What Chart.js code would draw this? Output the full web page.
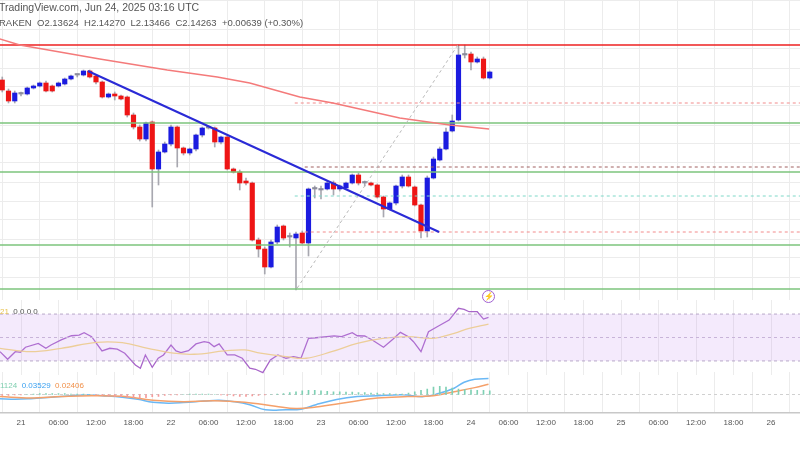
<!DOCTYPE html>
<html>
<head>
<meta charset="utf-8">
<script src="https://cdn.jsdelivr.net/npm/chart.js@4/dist/chart.umd.min.js"></script>
<style>
  body { margin: 0; background: #fff; width: 800px; height: 450px; overflow: hidden; position: relative; font-family: "Liberation Sans", Arial, sans-serif; }
  .pane { position: absolute; left: 0; width: 800px; }
  .txt { position: absolute; white-space: pre; color: #555; }
</style>
</head>
<body>
<div class="pane" style="top:0;height:300px"><canvas id="main"></canvas></div>
<div class="pane" style="top:300px;height:75px"><canvas id="rsi"></canvas></div>
<div class="pane" style="top:372px;height:62px"><canvas id="macd"></canvas></div>

<div class="txt" style="left:-1px;top:1px;font-size:10.5px">TradingView.com, Jun 24, 2025 03:16 UTC</div>
<div class="txt" style="left:-1px;top:17px;font-size:9.5px">RAKEN  O2.13624  H2.14270  L2.13466  C2.14263  +0.00639 (+0.30%)</div>
<div class="txt" style="left:0;top:307px;font-size:8px"><span style="color:#e8c250">21</span>  0 0 0 0</div>
<div class="txt" style="left:0;top:381px;font-size:8px"><span style="color:#7fcfb0">1124</span>  <span style="color:#3aa0f0">0.03529</span>  <span style="color:#f0904a">0.02406</span></div>
<div class="txt" style="left:482px;top:290px;width:11px;height:11px;border:1px solid #a060d0;border-radius:50%;font-size:8px;color:#a060d0;text-align:center;line-height:11px">⚡</div>

<script>
// hourly candles, first one is Jun 20 21:00 (hour -3 from Jun 21 00:00)
const firstHour = -3;
const opens = [2.135,2.124,2.114,2.122,2.121,2.127,2.129,2.132,2.129,2.129,2.131,2.136,2.140,2.140,2.144,2.139,2.133,2.118,2.121,2.119,2.118,2.100,2.088,2.076,2.093,2.046,2.063,2.071,2.088,2.067,2.062,2.066,2.080,2.087,2.087,2.073,2.078,2.046,2.043,2.034,2.032,1.975,1.966,1.948,1.973,1.989,1.978,1.977,1.982,1.972,2.026,2.026,2.026,2.032,2.026,2.027,2.032,2.040,2.032,2.032,2.030,2.018,2.006,2.012,2.029,2.038,2.028,2.010,1.984,2.037,2.055,2.066,2.084,2.095,2.160,2.161,2.153,2.156,2.137];
const highs = [2.138,2.126,2.124,2.123,2.128,2.130,2.133,2.134,2.130,2.133,2.137,2.140,2.141,2.145,2.145,2.140,2.134,2.122,2.123,2.120,2.119,2.102,2.090,2.093,2.094,2.065,2.073,2.090,2.089,2.068,2.067,2.081,2.088,2.089,2.088,2.079,2.079,2.047,2.045,2.037,2.033,1.977,1.968,1.975,1.990,1.990,1.982,1.983,1.984,2.027,2.029,2.029,2.034,2.034,2.030,2.033,2.041,2.042,2.034,2.033,2.031,2.019,2.013,2.030,2.040,2.040,2.029,2.011,2.039,2.058,2.068,2.087,2.100,2.170,2.170,2.163,2.158,2.158,2.144];
const lows = [2.123,2.112,2.112,2.119,2.120,2.126,2.128,2.123,2.123,2.128,2.130,2.135,2.138,2.139,2.137,2.131,2.117,2.117,2.115,2.115,2.098,2.086,2.074,2.074,2.008,2.030,2.062,2.069,2.048,2.060,2.060,2.064,2.078,2.086,2.068,2.071,2.045,2.042,2.025,2.030,1.974,1.958,1.941,1.947,1.971,1.975,1.968,1.925,1.971,1.959,2.017,2.016,2.025,2.020,2.024,2.026,2.031,2.030,2.029,2.029,2.017,1.998,2.005,2.010,2.027,2.028,2.009,1.977,1.978,2.036,2.054,2.065,2.083,2.094,2.157,2.145,2.152,2.136,2.136];
const closes = [2.125,2.114,2.122,2.121,2.127,2.129,2.132,2.124,2.124,2.132,2.136,2.139,2.140,2.144,2.138,2.133,2.118,2.121,2.119,2.116,2.100,2.088,2.076,2.092,2.046,2.063,2.071,2.088,2.067,2.062,2.066,2.080,2.087,2.088,2.073,2.078,2.046,2.043,2.032,2.032,1.975,1.966,1.948,1.973,1.988,1.977,1.978,1.981,1.972,2.026,2.027,2.025,2.032,2.026,2.029,2.032,2.040,2.032,2.032,2.030,2.018,2.006,2.012,2.029,2.038,2.029,2.010,1.984,2.037,2.056,2.066,2.083,2.094,2.160,2.160,2.153,2.156,2.137,2.143];

// moving average (hour, price)
const maHours = [-3.4,-0.2,12.6,23.4,31.4,36.6,44.6,49.9,60.6,68.6,74.9];
const maValues = [2.176,2.170,2.156,2.145,2.138,2.132,2.118,2.112,2.097,2.090,2.086];

// drawn trend lines (hour, price)
const trendLine = [[10.7,2.144],[66.9,1.983]];
const fibDiagonal = [[44.2,1.927],[69.9,2.170]];

// horizontal levels
const greenLevels = [2.092,2.043,1.970,1.926];
const resistance = 2.170;
const dashedLevels = [
  { price: 2.112, from: 43.8, color: '#f28b8b' },
  { price: 2.048, from: 45.4, color: '#a06060' },
  { price: 2.019, from: 43.8, color: '#7fd8c8' },
  { price: 1.983, from: 45.4, color: '#f28b8b' }
];

// RSI pane
const rsiHours = [-3.36,-2.14,-0.91,-0.1,0.72,2.76,3.98,4.8,6.43,8.07,9.3,10.1,11.3,12.96,14.2,15.4,16.6,18.3,19.1,19.9,21.0,21.95,22.8,24.0,24.8,25.6,26.8,28.0,29.3,30.1,30.9,31.7,33.0,34.2,35.4,36.6,37.5,38.7,39.9,41.1,42.4,43.6,44.8,46.0,47.2,48.9,50.1,51.3,53.0,53.8,55.0,56.2,58.0,59.5,60.7,62.0,62.8,64.0,65.2,66.8,68.5,70.0,70.9,71.7,73.0,74.0,74.8];
const rsiValues = [37.9,31.4,37.9,37.4,41.7,45.0,40.8,43.6,47.9,51.5,52.1,54.1,50.7,38.5,40.8,40.0,36.6,26.6,23.8,35.1,24.6,32.3,35.1,43.6,38.5,37.1,38.8,44.5,46.4,45.6,42.2,44.5,35.1,35.1,32.3,23.8,22.9,20.0,30.9,35.1,32.3,33.7,32.3,49.3,49.8,50.7,51.3,50.7,54.1,51.5,51.3,47.9,41.7,48.5,54.4,50.7,46.4,37.9,54.9,59.8,64.9,74.9,74.0,72.0,72.0,65.7,67.2];
const rsiMaHours = [-3.36,1.54,6.43,12.1,16.2,20.3,24.4,27.7,32.6,35.8,38.3,42.4,45.6,49.7,53.8,57.9,62.0,66.0,69.3,71.7,74.8];
const rsiMaValues = [40.8,37.9,40.8,45.9,45.6,40.8,36.6,35.7,38.5,39.4,36.6,33.7,32.3,37.9,45.0,49.3,50.7,49.3,53.6,57.8,61.5];

// MACD pane
const macdHours = [-3.36,-0.91,1.54,4.8,8.07,10.5,12.96,16.2,18.7,21.1,23.6,26.0,29.3,31.7,34.2,36.6,39.1,42.4,44.8,47.2,50.5,53.8,57.0,61.1,64.4,66.8,69.3,70.9,72.6,74.8];
const macdValues = [-0.0091,-0.0104,-0.0091,-0.0059,-0.0026,-0.0007,-0.0026,-0.0059,-0.0104,-0.0170,-0.0189,-0.0176,-0.0144,-0.0124,-0.0157,-0.0222,-0.0333,-0.0333,-0.0320,-0.0222,-0.0111,-0.0046,-0.0026,-0.0007,-0.0046,0.0020,0.0137,0.0268,0.0333,0.0346];
const signalHours = [-3.36,1.54,6.43,11.3,16.2,21.1,26.0,30.9,35.8,40.7,44.0,47.2,52.1,57.0,61.9,66.0,69.3,72.6,74.8];
const signalValues = [-0.0046,-0.0078,-0.0046,-0.0026,-0.0039,-0.0124,-0.0157,-0.0137,-0.0170,-0.0255,-0.0307,-0.0274,-0.0176,-0.0078,-0.0046,-0.0026,0.0059,0.0150,0.0222];
const histValues = [-0.002,-0.002,-0.001,-0.001,0,0.001,0.002,0.002,0.002,0.002,0.002,0.001,0.001,0.001,0,-0.001,-0.002,-0.003,-0.004,-0.005,-0.006,-0.007,-0.008,-0.007,-0.005,-0.004,-0.002,-0.001,-0.001,0,0.001,0.001,0.001,0.001,0,-0.001,-0.002,-0.003,-0.004,-0.004,-0.003,-0.002,-0.001,0,0.001,0.002,0.004,0.006,0.008,0.009,0.009,0.008,0.007,0.006,0.006,0.005,0.005,0.004,0.004,0.003,0.003,0.002,0.002,0.001,0.001,0.003,0.006,0.009,0.012,0.016,0.018,0.016,0.014,0.012,0.011,0.010,0.009,0.009,0.008];

// time axis
const tickHours = [0,6,12,18,24,30,36,42,48,54,60,66,72,78,84,90,96,102,108,114,120];
const tickLabels = ['21','06:00','12:00','18:00','22','06:00','12:00','18:00','23','06:00','12:00','18:00','24','06:00','12:00','18:00','25','06:00','12:00','18:00','26'];

const X_MIN = -3.36, X_MAX = 124.64;
const UP = '#1b1be0', DOWN = '#ee1515', DOJI = '#8c8c9c';

const candleColor = (i) => {
  if (Math.abs(closes[i] - opens[i]) < 0.0012) return DOJI;
  return closes[i] >= opens[i] ? UP : DOWN;
};
const pts = (hs, vs) => hs.map((h, i) => ({ x: h, y: vs[i] }));

const xScale = (showTicks) => ({
  type: 'linear', min: X_MIN, max: X_MAX, offset: false,
  afterBuildTicks: (axis) => { axis.ticks = tickHours.map(v => ({ value: v })); },
  grid: { color: '#ececec', drawTicks: false },
  border: { display: showTicks, color: '#c8c8c8', width: 1.5 },
  ticks: {
    display: showTicks, color: '#555', font: { size: 8 }, padding: 6, maxRotation: 0,
    callback: (v) => tickLabels[tickHours.indexOf(v)]
  }
});

const common = {
  responsive: true, maintainAspectRatio: false, animation: false,
  layout: { padding: 0 },
  plugins: { legend: { display: false }, tooltip: { enabled: false } }
};

// ---- main price pane ----
const bodies = opens.map((o, i) => ({ x: firstHour + i, y: [o, closes[i]] }));
const wicks = opens.map((o, i) => ({ x: firstHour + i, y: [lows[i], highs[i]] }));
const hline = (p, from, to) => [{ x: from, y: p }, { x: to, y: p }];

const mainSets = [
  { type: 'bar', data: wicks, grouped: false, barThickness: 1, backgroundColor: '#a8a8b0', order: 3 },
  { type: 'bar', data: bodies, grouped: false, barThickness: 4.5, minBarLength: 1.5,
    backgroundColor: opens.map((o, i) => candleColor(i)), order: 2 },
  { type: 'line', data: pts(maHours, maValues), borderColor: '#f47a7a', borderWidth: 1.5, pointRadius: 0, order: 1 },
  { type: 'line', data: trendLine.map(p => ({ x: p[0], y: p[1] })), borderColor: '#2a2ad6', borderWidth: 2, pointRadius: 0, order: 0 },
  { type: 'line', data: fibDiagonal.map(p => ({ x: p[0], y: p[1] })), borderColor: '#b8b8b8', borderWidth: 1, borderDash: [3, 3], pointRadius: 0, order: 1 },
  { type: 'line', data: hline(resistance, X_MIN, X_MAX), borderColor: '#ee2020', borderWidth: 1.3, pointRadius: 0, order: 1 }
];
greenLevels.forEach(p => mainSets.push({ type: 'line', data: hline(p, X_MIN, X_MAX), borderColor: '#7cc47c', borderWidth: 1.5, pointRadius: 0, order: 1 }));
dashedLevels.forEach(d => mainSets.push({ type: 'line', data: hline(d.price, d.from, X_MAX), borderColor: d.color, borderWidth: 1, borderDash: [3, 3], pointRadius: 0, order: 1 }));

new Chart(document.getElementById('main'), {
  type: 'bar',
  data: { datasets: mainSets },
  options: {
    ...common,
    scales: {
      x: xScale(false),
      y: { min: 1.915, max: 2.215, grid: { color: '#ececec', drawTicks: false }, border: { display: false },
           ticks: { display: false, stepSize: 0.019 } }
    }
  }
});

// ---- RSI pane ----
new Chart(document.getElementById('rsi'), {
  type: 'line',
  data: {
    datasets: [
      { data: hline(70, X_MIN, X_MAX), borderColor: '#b8a8c8', borderWidth: 1, borderDash: [3, 3], pointRadius: 0 },
      { data: hline(30, X_MIN, X_MAX), borderColor: '#b8a8c8', borderWidth: 1, borderDash: [3, 3], pointRadius: 0,
        fill: '-1', backgroundColor: 'rgba(200,150,240,0.2)' },
      { data: hline(50, X_MIN, X_MAX), borderColor: '#c8bcd4', borderWidth: 1, borderDash: [3, 3], pointRadius: 0 },
      { data: pts(rsiMaHours, rsiMaValues), borderColor: '#f6dc84', borderWidth: 1.3, pointRadius: 0, tension: 0.4 },
      { data: pts(rsiHours, rsiValues), borderColor: '#a865c9', borderWidth: 1.3, pointRadius: 0 }
    ]
  },
  options: {
    ...common,
    scales: {
      x: xScale(false),
      y: { min: 18, max: 82, display: false }
    }
  }
});

// ---- MACD pane ----
new Chart(document.getElementById('macd'), {
  type: 'bar',
  data: {
    datasets: [
      { type: 'bar', data: histValues.map((v, i) => ({ x: firstHour + i, y: v })), grouped: false, barThickness: 1,
        backgroundColor: histValues.map(v => v >= 0 ? '#7fd0b4' : '#f59a9a') },
      { type: 'line', data: hline(0, X_MIN, X_MAX), borderColor: '#d0d0d0', borderWidth: 1, borderDash: [3, 3], pointRadius: 0 },
      { type: 'line', data: pts(signalHours, signalValues), borderColor: '#f5a06a', borderWidth: 1.5, pointRadius: 0, tension: 0.4 },
      { type: 'line', data: pts(macdHours, macdValues), borderColor: '#6ab8f5', borderWidth: 1.5, pointRadius: 0, tension: 0.4 }
    ]
  },
  options: {
    ...common,
    scales: {
      x: xScale(true),
      y: { min: -0.039, max: 0.049, display: false }
    }
  }
});
</script>
</body>
</html>
